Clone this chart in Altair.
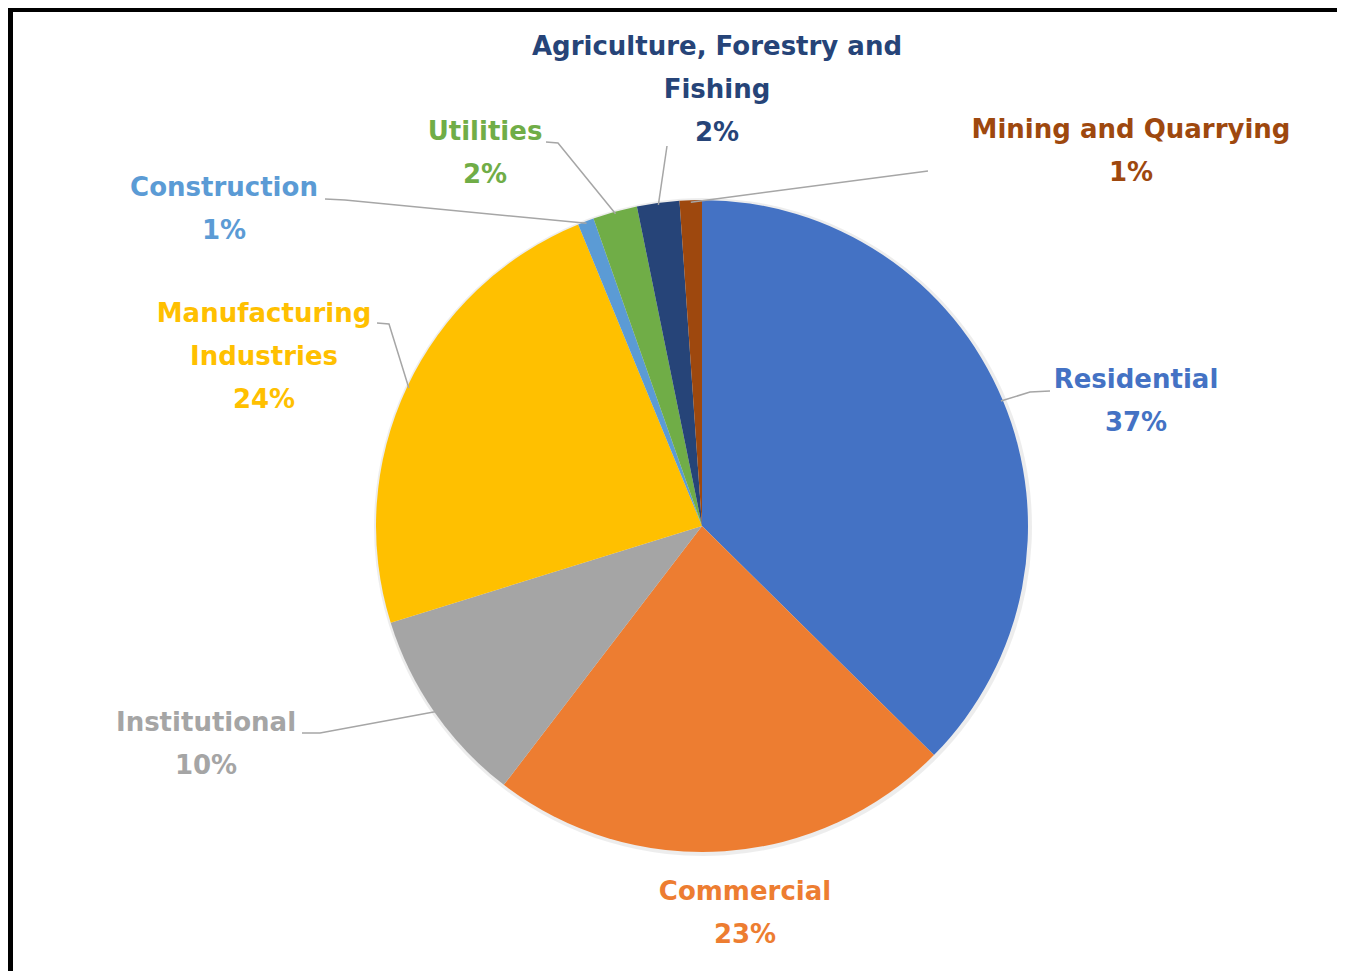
import math
import altair as alt
import pandas as pd

# ---- data ----
sectors = ["Residential", "Commercial", "Institutional", "Manufacturing Industries",
           "Construction", "Utilities", "Agriculture, Forestry and Fishing", "Mining and Quarrying"]
shares = [37.4, 23.0, 9.8, 23.6, 0.8, 2.2, 2.1, 1.1]
colors = ["#4472C4", "#ED7D31", "#A5A5A5", "#FFC000", "#5B9BD5", "#70AD47", "#264478", "#9E480E"]
label_text = ["Residential", "Commercial", "Institutional", "Manufacturing\nIndustries",
              "Construction", "Utilities", "Agriculture, Forestry and\nFishing", "Mining and Quarrying"]

# ---- layout (pixels, plot coordinates) ----
W, H = 1329, 963
CX, CY, R = 694, 518, 326
OFF = 8  # page margin
label_pos = {  # centre of first text line, page coordinates
    "Residential": (1136, 380),
    "Commercial": (745, 892),
    "Institutional": (206, 723),
    "Manufacturing Industries": (264, 314),
    "Construction": (224, 188),
    "Utilities": (485, 132),
    "Agriculture, Forestry and Fishing": (717, 47),
    "Mining and Quarrying": (1131, 130),
}
leader_start = {  # label-side points of leader lines, page coordinates
    "Residential": [(1050, 391), (1030, 392)],
    "Institutional": [(302, 733), (320, 733)],
    "Manufacturing Industries": [(377, 323), (389, 324)],
    "Construction": [(325, 199), (345, 200)],
    "Utilities": [(546, 142), (558, 143)],
    "Agriculture, Forestry and Fishing": [(667, 146)],
    "Mining and Quarrying": [(928, 171)],
}

pie_df = pd.DataFrame({"sector": sectors, "share": shares, "idx": list(range(len(sectors)))})

total = sum(shares)
rows_lab = []
rows_lead = []
cum = 0.0
for i, (s, v) in enumerate(zip(sectors, shares)):
    mid = (cum + v / 2) / total * 2 * math.pi
    cum += v
    lx, ly = label_pos[s]
    rows_lab.append({"sector": s, "text": f"{label_text[i]}\n{round(v)}%",
                     "lx": lx - OFF, "ly": ly - OFF})
    if s in leader_start:
        pts = [(x - OFF, y - OFF) for x, y in leader_start[s]]
        pts.append((CX + (R - 2) * math.sin(mid), CY - (R - 2) * math.cos(mid)))
        for k, (x, y) in enumerate(pts):
            rows_lead.append({"sector": s, "pt": k, "x": x, "y": y})

lab_df = pd.DataFrame(rows_lab)
lead_df = pd.DataFrame(rows_lead)

color_scale = alt.Scale(domain=sectors, range=colors)

shadow = alt.Chart(pie_df).mark_arc(radius=R + 3, opacity=0.07, color="#000000").encode(
    theta=alt.Theta("share:Q", stack=True),
    x=alt.value(CX + 1), y=alt.value(CY + 1),
)

pie = alt.Chart(pie_df).mark_arc(radius=R).encode(
    theta=alt.Theta("share:Q", stack=True),
    color=alt.Color("sector:N", scale=color_scale, legend=None),
    order=alt.Order("idx:Q"),
    x=alt.value(CX), y=alt.value(CY),
)

leaders = alt.Chart(lead_df).mark_line(color="#A6A6A6", strokeWidth=1.5).encode(
    x=alt.X("x:Q", scale=None, axis=None),
    y=alt.Y("y:Q", scale=None, axis=None),
    detail="sector:N",
    order="pt:Q",
)

labels = alt.Chart(lab_df).mark_text(
    font="DejaVu Sans", fontSize=26, fontWeight="bold", lineBreak="\n", lineHeight=43,
    align="center", baseline="middle",
).encode(
    x=alt.X("lx:Q", scale=None, axis=None),
    y=alt.Y("ly:Q", scale=None, axis=None),
    text="text:N",
    color=alt.Color("sector:N", scale=color_scale, legend=None),
)

border_left = alt.Chart(pie_df).mark_rule(color="black", strokeWidth=5).encode(
    x=alt.value(2.5), y=alt.value(0), y2=alt.value(H)
)
border_top = alt.Chart(pie_df).mark_rule(color="black", strokeWidth=5).encode(
    x=alt.value(0), x2=alt.value(W), y=alt.value(1.5)
)

chart = alt.layer(shadow, pie, leaders, labels, border_left, border_top).properties(
    width=W, height=H, padding=0, autosize="none"
).configure_view(stroke=None)

chart.save("out.html", embed_options={"renderer": "svg", "actions": False})
